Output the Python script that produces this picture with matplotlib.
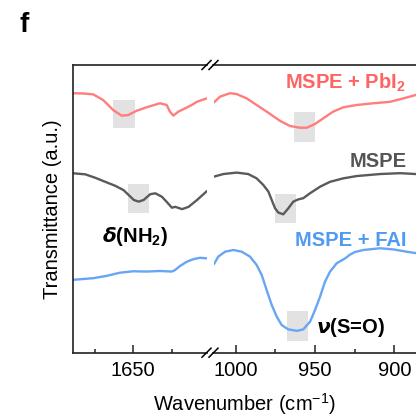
import matplotlib
matplotlib.use("Agg")
import matplotlib.pyplot as plt
from matplotlib.patches import Rectangle

plt.rcParams['font.family'] = ['Liberation Sans', 'DejaVu Sans']
plt.rcParams['mathtext.fontset'] = 'custom'
plt.rcParams['mathtext.rm'] = 'Liberation Sans'
plt.rcParams['mathtext.bf'] = 'Liberation Sans:bold'
plt.rcParams['mathtext.it'] = 'Liberation Sans:italic'

# ---- spectra, high-wavenumber window (cm-1) ----
wn_hi_pbi2 = [1690, 1682.6, 1676.1, 1669.6, 1663.0, 1657.6, 1653.3, 1647.8, 1641.3, 1632.6,
              1628.2, 1626.1, 1623.9, 1620.6, 1616.3, 1611.9, 1608.6, 1602.1]
t_hi_pbi2 = [90.2, 90.1, 89.8, 87.8, 84.3, 82.4, 82.6, 84.1, 85.3, 86.7,
             86.1, 83.8, 82.4, 83.8, 84.9, 86.1, 87.2, 88.4]

wn_hi_mspe = [1690.0, 1681.3, 1674.8, 1668.3, 1661.7, 1656.3, 1653.0, 1649.7, 1646.5, 1643.2,
              1638.9, 1635.6, 1631.3, 1628.0, 1624.8, 1622.6, 1618.2, 1613.9, 1608.4, 1601.9]
t_hi_mspe = [62.4, 62.0, 60.8, 59.4, 58.0, 56.5, 54.8, 53.1, 52.5, 53.1,
             55.1, 55.4, 54.2, 52.3, 50.4, 50.7, 49.9, 50.7, 53.1, 56.2]

wn_hi_fai = [1690, 1676.1, 1667.4, 1658.7, 1650.0, 1641.3, 1632.6, 1625.0, 1622.8, 1619.6,
             1615.2, 1610.9, 1606.5, 1602.1]
t_hi_fai = [25.3, 25.9, 26.7, 27.8, 28.3, 28.2, 28.4, 28.2, 28.7, 30.1,
            31.6, 32.5, 33.0, 32.8]

# ---- spectra, low-wavenumber window (cm-1) ----
wn_lo_pbi2 = [1013.7, 1009.9, 1003.6, 999.4, 993.1, 986.8, 980.5, 972.1, 965.8, 959.5,
              955.2, 950.0, 944.7, 938.5, 932.2, 923.7, 913.2, 902.7, 894.3, 886.3]
t_lo_pbi2 = [87.0, 89.0, 90.2, 89.9, 88.4, 86.1, 83.8, 80.6, 78.8, 78.2,
             78.2, 79.5, 81.5, 83.8, 85.3, 86.1, 86.7, 87.2, 88.4, 89.6]

wn_lo_mspe = [1013.7, 1007.8, 999.4, 992.1, 986.8, 982.6, 979.4, 977.3, 975.2, 973.1,
              970.0, 966.8, 963.7, 960.5, 957.4, 953.2, 946.8, 940.5, 932.2, 923.7,
              909.0, 896.4, 886.3]
t_lo_mspe = [61.2, 62.1, 62.6, 62.1, 60.6, 58.3, 56.0, 53.1, 50.2, 48.7,
             48.1, 50.2, 52.5, 53.3, 53.7, 55.4, 57.7, 59.4, 60.6, 61.4,
             62.1, 62.4, 62.1]

wn_lo_fai = [1013.7, 1011.0, 1006.7, 1001.5, 996.2, 991.0, 986.8, 983.6, 980.5, 977.3,
             974.1, 971.0, 966.8, 961.5, 957.4, 953.1, 950.0, 946.8, 943.7, 940.5,
             936.3, 931.0, 927.9, 924.8, 919.5, 909.0, 900.6, 892.2, 886.3]
t_lo_fai = [30.8, 33.4, 35.1, 35.7, 35.1, 33.4, 30.5, 27.0, 21.8, 16.6,
            12.5, 9.6, 8.1, 7.6, 8.1, 10.8, 14.8, 19.5, 24.7, 28.2,
            31.1, 32.8, 34.1, 35.0, 35.7, 36.3, 35.9, 35.1, 34.6]

# highlighted bands: (window, wn_left, wn_right, t_bottom, t_top)
bands = [
    ('hi', 1663.0, 1648.8, 78.0, 87.8),
    ('hi', 1653.3, 1639.8, 48.7, 58.6),
    ('lo', 963.1, 950.0, 73.3, 83.7),
    ('lo', 975.2, 962.0, 45.2, 55.2),
    ('lo', 967.5, 954.6, 4.2, 14.5),
]

hi_ticks_major = [1650]
hi_ticks_minor = [1675, 1625]
lo_ticks_major = [1000, 950, 900]
lo_ticks_minor = [975, 925]

c_red, c_red_txt = '#ff7d7d', '#ff6464'
c_gray, c_gray_txt = '#5a5a5a', '#555555'
c_blue, c_blue_txt = '#66a6f4', '#4f9bf2'
c_band = '#e2e2e2'

W, H = 416, 417
fig = plt.figure(figsize=(W / 100, H / 100), dpi=100)

def px_rect(x0, y0, x1, y1):
    return [x0 / W, 1 - y1 / H, (x1 - x0) / W, (y1 - y0) / H]

ax1 = fig.add_axes(px_rect(72.7, 65, 206.5, 352.7))
ax2 = fig.add_axes(px_rect(213.5, 65, 420, 352.7))

ax1.set_xlim(1689.5, 1602.25)
ax2.set_xlim(1014.0, 883.8)
for ax in (ax1, ax2):
    ax.set_ylim(0, 100)
    ax.set_yticks([])
    for s in ax.spines.values():
        s.set_linewidth(1.2)
        s.set_color('#222222')
    ax.tick_params(axis='x', which='both', direction='in', labelsize=14.5, pad=6,
                   width=1.1, color='#222222')
    ax.tick_params(axis='x', which='major', length=5.5)
    ax.tick_params(axis='x', which='minor', length=3)

ax1.spines['right'].set_visible(False)
ax2.spines['left'].set_visible(False)
ax2.spines['right'].set_visible(False)

ax1.set_xticks(hi_ticks_major)
ax1.set_xticks(hi_ticks_minor, minor=True)
ax2.set_xticks(lo_ticks_major)
ax2.set_xticks(lo_ticks_minor, minor=True)

for win, x0, x1, y0, y1 in bands:
    ax = ax1 if win == 'hi' else ax2
    ax.add_patch(Rectangle((x0, y0), x1 - x0, y1 - y0, facecolor=c_band,
                           edgecolor='none', zorder=1))

line_kw = dict(lw=1.7, zorder=2, solid_joinstyle='round', solid_capstyle='round')
ax1.plot(wn_hi_pbi2, t_hi_pbi2, color=c_red, **line_kw)
ax1.plot(wn_hi_mspe, t_hi_mspe, color=c_gray, **line_kw)
ax1.plot(wn_hi_fai, t_hi_fai, color=c_blue, **line_kw)
ax2.plot(wn_lo_pbi2, t_lo_pbi2, color=c_red, **line_kw)
ax2.plot(wn_lo_mspe, t_lo_mspe, color=c_gray, **line_kw)
ax2.plot(wn_lo_fai, t_lo_fai, color=c_blue, **line_kw)

# axis-break slashes
def slashes(ax, xa):
    bb = ax.get_position()
    dx = 4.5 / (bb.width * W)
    dy = 4.5 / (bb.height * H)
    for ya in (0, 1):
        ax.plot([xa - dx, xa + dx], [ya - dy, ya + dy], transform=ax.transAxes,
                color='black', lw=1.1, clip_on=False, zorder=5)

slashes(ax1, 1.0)
slashes(ax2, 0.0)

fs = 14.5
ax2.text(892.8, 91.6, r'MSPE + PbI$_\mathbf{2}$', color=c_red_txt, fontsize=fs,
         fontweight='bold', ha='right', va='baseline')
ax2.text(892.2, 64.7, 'MSPE', color=c_gray_txt, fontsize=fs,
         fontweight='bold', ha='right', va='baseline')
ax2.text(892.2, 37.2, 'MSPE + FAI', color=c_blue_txt, fontsize=fs,
         fontweight='bold', ha='right', va='baseline')
ax2.text(949.4, 6.8, r'$\boldsymbol{\nu}$(S=O)', color='black', fontsize=fs,
         fontweight='bold', ha='left', va='baseline')
ax1.text(1670.6, 38.6, r'$\boldsymbol{\delta}$(NH$_\mathbf{2}$)', color='black', fontsize=fs,
         fontweight='bold', ha='left', va='baseline')

fig.text(53 / W, 1 - 209 / H, 'Transmittance (a.u.)', rotation=90, fontsize=fs,
         ha='center', va='center')
fig.text(244 / W, 1 - 411 / H, r'Wavenumber (cm$^{-1}$)', fontsize=fs,
         ha='center', va='baseline')
fig.text(20 / W, 1 - 32 / H, 'f', fontsize=20, fontweight='bold', ha='left', va='baseline')

fig.savefig('out.png', dpi=100)
